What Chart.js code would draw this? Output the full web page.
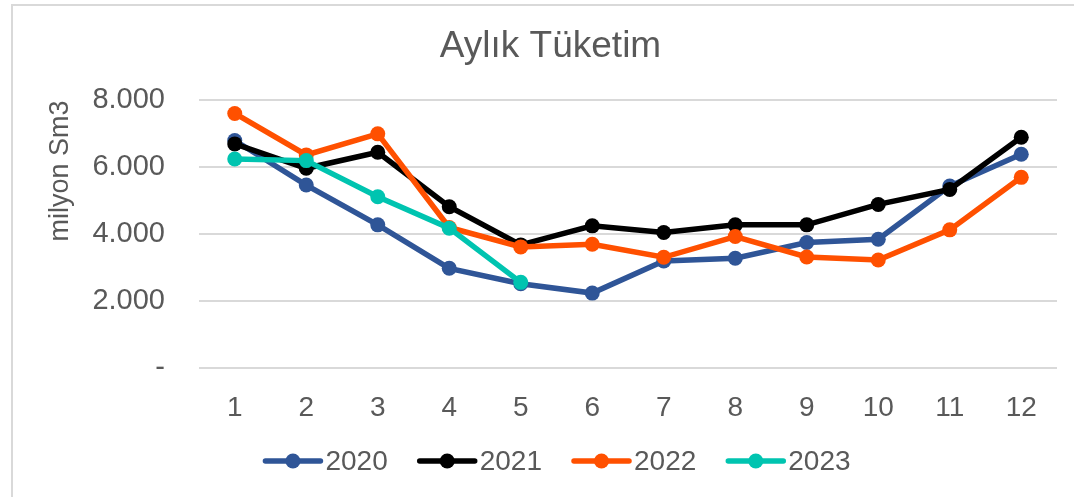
<!DOCTYPE html>
<html>
<head>
<meta charset="utf-8">
<script src="https://cdn.jsdelivr.net/npm/chart.js@4.4.0/dist/chart.umd.min.js"></script>
<style>
  html, body { margin: 0; padding: 0; background: #fff; overflow: hidden; }
  #frame { position: absolute; left: 11px; top: 4px; width: 1200px; height: 600px; border: 2px solid #d9d9d9; }
  #wrap { position: absolute; left: 12px; top: 5px; width: 1074px; height: 492px; }
</style>
</head>
<body>
<div id="frame"></div>
<div id="wrap"><canvas id="tuketimChart"></canvas></div>
<script>
const months = ['1', '2', '3', '4', '5', '6', '7', '8', '9', '10', '11', '12'];
const seriesNames = ['2020', '2021', '2022', '2023'];
const values2020 = [6800, 5470, 4280, 2980, 2520, 2240, 3200, 3280, 3750, 3850, 5440, 6390];
const values2021 = [6700, 5970, 6450, 4820, 3680, 4250, 4050, 4280, 4280, 4890, 5340, 6900];
const values2022 = [7610, 6370, 7000, 4200, 3620, 3700, 3310, 3930, 3320, 3230, 4130, 5700];
const values2023 = [6250, 6200, 5120, 4180, 2560];
const yTicks = [0, 2000, 4000, 6000, 8000];

const seriesColors = ['#2f5597', '#000000', '#ff5000', '#00c4b0'];
const FONT = '"Liberation Sans", Arial, sans-serif';
const TEXT = '#595959';

// legend drawn as line + marker, like the office style
const lineLegend = {
    id: 'lineLegend',
    afterDraw(chart) {
        const ctx = chart.ctx;
        ctx.save();
        ctx.font = '28px ' + FONT;
        const lineW = 59, gap = 3, spacing = 30;
        const items = chart.data.datasets.map(ds => ({ ds: ds, w: ctx.measureText(ds.label).width }));
        const total = items.reduce((s, it) => s + lineW + gap + it.w, 0) + spacing * (items.length - 1);
        let x = chart.width / 2 - total / 2 + 8;
        const y = chart.height - 36;
        items.forEach(it => {
            ctx.strokeStyle = it.ds.borderColor;
            ctx.lineWidth = 5.5;
            ctx.lineCap = 'round';
            ctx.beginPath();
            ctx.moveTo(x + 2, y);
            ctx.lineTo(x + lineW - 2, y);
            ctx.stroke();
            ctx.fillStyle = it.ds.borderColor;
            ctx.beginPath();
            ctx.arc(x + lineW / 2, y, 7.5, 0, Math.PI * 2);
            ctx.fill();
            ctx.fillStyle = TEXT;
            ctx.textBaseline = 'middle';
            ctx.textAlign = 'left';
            ctx.fillText(it.ds.label, x + lineW + gap, y + 1);
            x += lineW + gap + it.w + spacing;
        });
        ctx.restore();
    }
};

// later years sit on top, so lower order
function makeSeries(label, data, color, order) {
    return {
        label: label,
        data: data,
        order: order,
        borderColor: color,
        backgroundColor: color,
        borderWidth: 5.5,
        pointRadius: 7.5,
        pointHoverRadius: 8,
        pointBackgroundColor: color,
        pointBorderColor: color,
        pointBorderWidth: 0,
        tension: 0,
        fill: false
    };
}

const ctx = document.getElementById('tuketimChart').getContext('2d');
new Chart(ctx, {
    type: 'line',
    data: {
        labels: months,
        datasets: [
            makeSeries(seriesNames[0], values2020, seriesColors[0], 3),
            makeSeries(seriesNames[1], values2021, seriesColors[1], 2),
            makeSeries(seriesNames[2], values2022, seriesColors[2], 1),
            makeSeries(seriesNames[3], values2023, seriesColors[3], 0)
        ]
    },
    options: {
        responsive: true,
        maintainAspectRatio: false,
        animation: false,
        layout: {
            padding: { left: 32, right: 29, top: 0, bottom: 74 }
        },
        scales: {
            x: {
                offset: true,
                grid: { display: false },
                border: { display: false },
                afterFit: axis => { axis.height = 55; },
                ticks: {
                    color: TEXT,
                    font: { family: FONT, size: 28 },
                    padding: 15,
                    maxRotation: 0
                }
            },
            y: {
                min: yTicks[0],
                max: yTicks[yTicks.length - 1],
                afterBuildTicks: axis => { axis.ticks = yTicks.map(v => ({ value: v })); },
                afterFit: axis => { axis.width = 155; },
                grid: { color: '#d9d9d9', lineWidth: 2, drawTicks: false },
                border: { display: false },
                ticks: {
                    color: TEXT,
                    font: { family: FONT, size: 29 },
                    padding: 34,
                    callback: v => v === 0 ? '-' : String(v).replace(/\B(?=(\d{3})+(?!\d))/g, '.')
                },
                title: {
                    display: true,
                    text: 'milyon Sm3',
                    align: 'end',
                    color: TEXT,
                    font: { family: FONT, size: 27 },
                    padding: { top: 0, bottom: 10 }
                }
            }
        },
        plugins: {
            legend: { display: false },
            tooltip: { enabled: false },
            title: {
                display: true,
                text: 'Aylık Tüketim',
                color: TEXT,
                font: { family: FONT, size: 37, weight: 'normal' },
                padding: { top: 20, bottom: 31 }
            }
        }
    },
    plugins: [lineLegend]
});
</script>
</body>
</html>
